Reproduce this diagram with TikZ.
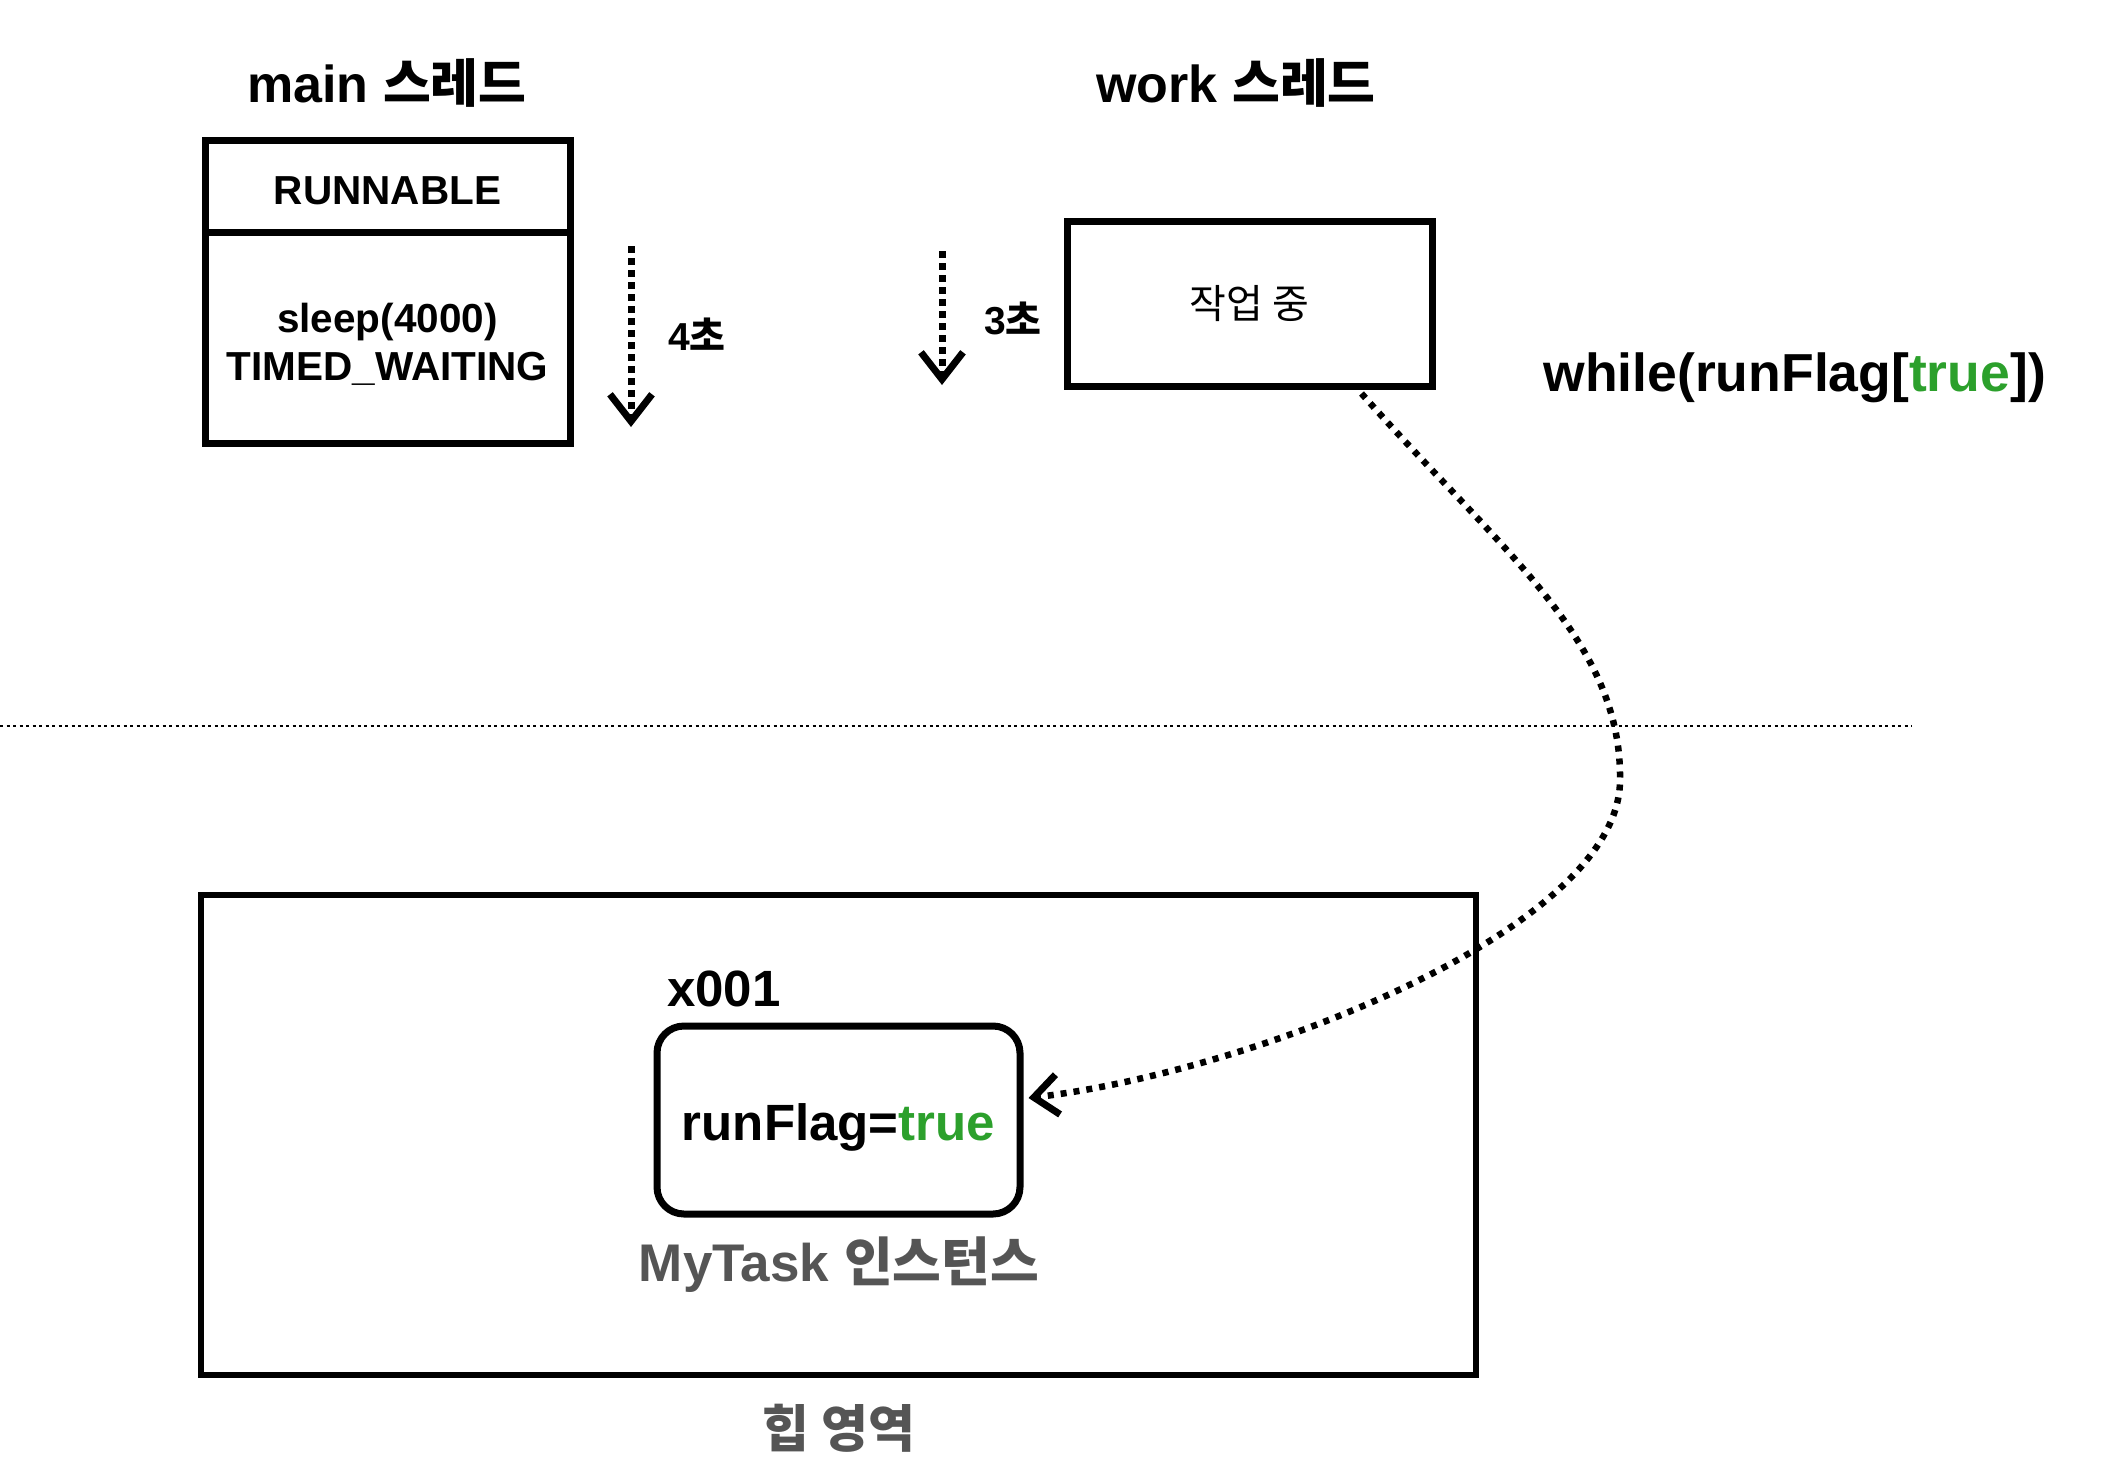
\documentclass[tikz,border=0pt]{standalone}
\usepackage{fontspec}
\setmainfont{Liberation Sans}
\newfontfamily\kr{Noto Sans CJK KR}[Scale=1.0]
\usetikzlibrary{arrows.meta}
\definecolor{tgreen}{RGB}{44,160,44}
\definecolor{tgray}{RGB}{85,85,85}
\newcommand{\K}[1]{{\kr #1}}
\begin{document}
\begin{tikzpicture}[x=1pt,y=-1pt,
  box/.style={draw, line width=7pt, inner sep=0pt},
  headf/.style={font=\fontsize{52}{60}\selectfont\bfseries},
  lblf/.style={font=\fontsize{40.5}{48}\selectfont\bfseries},
  krf/.style={font=\fontsize{40}{48}\selectfont},
  secf/.style={font=\fontsize{39}{48}\selectfont\bfseries},
  bigf/.style={font=\fontsize{51}{58}\selectfont\bfseries},
  tarrow/.style={line width=7pt, dash pattern=on 7pt off 5pt,
    -{Straight Barb[length=27pt,width=42pt,line width=7pt]}},
  dotc/.style={line width=6.5pt, dash pattern=on 6pt off 7pt,
    -{Straight Barb[length=24pt,width=40pt,line width=7pt]}},
  sep/.style={line width=2.5pt, dash pattern=on 3pt off 3.5pt}]
\useasboundingbox (0,0) rectangle (2104,1476);

% headings
\node[headf] (mainh) at (387,83) {main \K{스레드}};
\node[headf] (workh) at (1236,83) {work \K{스레드}};

% main thread box
\node[box, minimum width=365pt, minimum height=92pt, lblf, text height=37pt, text depth=0pt] (run) at (387.5,186) {RUNNABLE};
\node[box, minimum width=365pt, minimum height=211pt] (slp) at (387.5,337.5) {};
\node[lblf, align=center] (slpt) at (387.5,344.5) {sleep(4000)\\TIMED\_WAITING};

% time arrows
\coordinate (a4s) at (631,246);
\coordinate (a4e) at (631,427);
\draw[tarrow] (a4s) -- (a4e);
\node[secf] (l4) at (697,334) {4\K{초}};

\coordinate (a3s) at (942,251);
\coordinate (a3e) at (942,385);
\draw[tarrow] (a3s) -- (a3e);
\node[secf] (l3) at (1013,318) {3\K{초}};

% work box
\node[box, minimum width=365pt, minimum height=165pt, krf] (work) at (1249.5,303.5) {\K{작업 중}};

\node[font=\fontsize{53.5}{60}\selectfont\bfseries, anchor=west] (wl) at (1540,378) {while(runFlag[\textcolor{tgreen}{true}])};

% separator
\coordinate (s1) at (0,726);
\coordinate (s2) at (1912,726);
\draw[sep] (s1) -- (s2);

% heap
\node[draw, line width=6pt, minimum width=1275pt, minimum height=480pt] (heap) at (838.5,1135) {};
\node[bigf, text=tgray] (heapl) at (839,1428) {\K{힙 영역}};

\node[bigf] (addr) at (724,989) {x001};
\node[draw, line width=7pt, rounded corners=27pt, minimum width=363pt, minimum height=188pt, bigf, text height=51pt, text depth=11pt] (flag) at (838.5,1120) {runFlag=\textcolor{tgreen}{true}};
\node[font=\fontsize{53}{60}\selectfont\bfseries, text=tgray] (inst) at (839,1265) {MyTask \K{인스턴스}};

% curve
\draw[dotc] ([xshift=112pt,yshift=-4pt]work.south) .. controls (1500,550) and (1622,640) .. (1620,780)
  .. controls (1620,930) and (1250,1072) .. ([xshift=5pt,yshift=22pt]flag.east);
\end{tikzpicture}
\end{document}
